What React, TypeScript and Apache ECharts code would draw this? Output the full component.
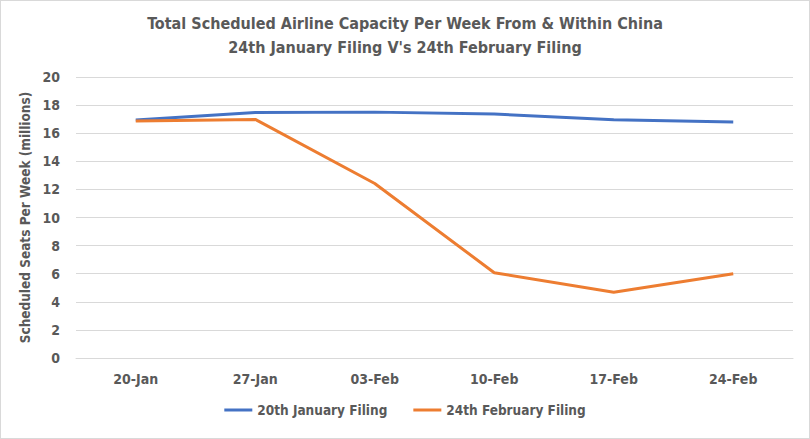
import React, { useEffect, useRef } from "react";
import * as echarts from "echarts";

const categories = ["20-Jan", "27-Jan", "03-Feb", "10-Feb", "17-Feb", "24-Feb"];
const janFiling = [16.94, 17.47, 17.5, 17.36, 16.96, 16.8];
const febFiling = [16.87, 16.98, 12.42, 6.07, 4.68, 6.0];
const seriesNames = ["20th January Filing", "24th February Filing"];
const titleLines = [
  "Total Scheduled Airline Capacity Per Week From & Within China",
  "24th January Filing V's 24th February Filing",
];
const yAxisName = "Scheduled Seats Per Week (millions)";

const FONT = "'DejaVu Sans Condensed', 'Open Sans', sans-serif";
const TEXT = "#595959";

export default function App() {
  const ref = useRef<HTMLDivElement>(null);
  useEffect(() => {
    if (!ref.current) return;
    const chart = echarts.init(ref.current, undefined, { renderer: "svg" });
    chart.setOption({
      animation: false,
      backgroundColor: "#ffffff",
      title: {
        text: titleLines.join("\n"),
        left: "center",
        top: 5,
        textStyle: {
          fontFamily: FONT,
          fontSize: 16,
          fontWeight: "bold",
          color: TEXT,
          lineHeight: 24,
        },
      },
      legend: {
        bottom: 16,
        left: "center",
        itemWidth: 28,
        itemHeight: 3,
        itemGap: 26,
        icon: "rect",
        textStyle: { fontFamily: FONT, fontSize: 13.5, fontWeight: "bold", color: TEXT },
        data: seriesNames,
      },
      grid: { left: 75, right: 16, top: 76, bottom: 80, containLabel: false },
      xAxis: {
        type: "category",
        data: categories,
        boundaryGap: true,
        axisLine: { lineStyle: { color: "#d9d9d9" } },
        axisTick: { show: false },
        axisLabel: {
          fontFamily: FONT,
          fontSize: 14,
          fontWeight: "bold",
          color: TEXT,
          margin: 14,
        },
      },
      yAxis: {
        type: "value",
        min: 0,
        max: 20,
        interval: 2,
        name: yAxisName,
        nameLocation: "middle",
        nameGap: 39,
        nameTextStyle: { fontFamily: FONT, fontSize: 13.5, fontWeight: "bold", color: TEXT },
        axisLine: { show: false },
        axisTick: { show: false },
        axisLabel: { fontFamily: FONT, fontSize: 14, fontWeight: "bold", color: TEXT, margin: 16 },
        splitLine: { lineStyle: { color: "#d9d9d9", width: 1 } },
      },
      series: [
        {
          name: seriesNames[0],
          type: "line",
          data: janFiling,
          symbol: "none",
          lineStyle: { color: "#4472C4", width: 3 },
          itemStyle: { color: "#4472C4" },
        },
        {
          name: seriesNames[1],
          type: "line",
          data: febFiling,
          symbol: "none",
          lineStyle: { color: "#ED7D31", width: 3 },
          itemStyle: { color: "#ED7D31" },
        },
      ],
    });
    return () => chart.dispose();
  }, []);
  return (
    <div
      style={{
        position: "fixed",
        left: 0,
        top: 0,
        width: 810,
        height: 439,
        boxSizing: "border-box",
        border: "1px solid #d9d9d9",
        background: "#fff",
      }}
    >
      <div ref={ref} style={{ width: 808, height: 437 }} />
    </div>
  );
}
